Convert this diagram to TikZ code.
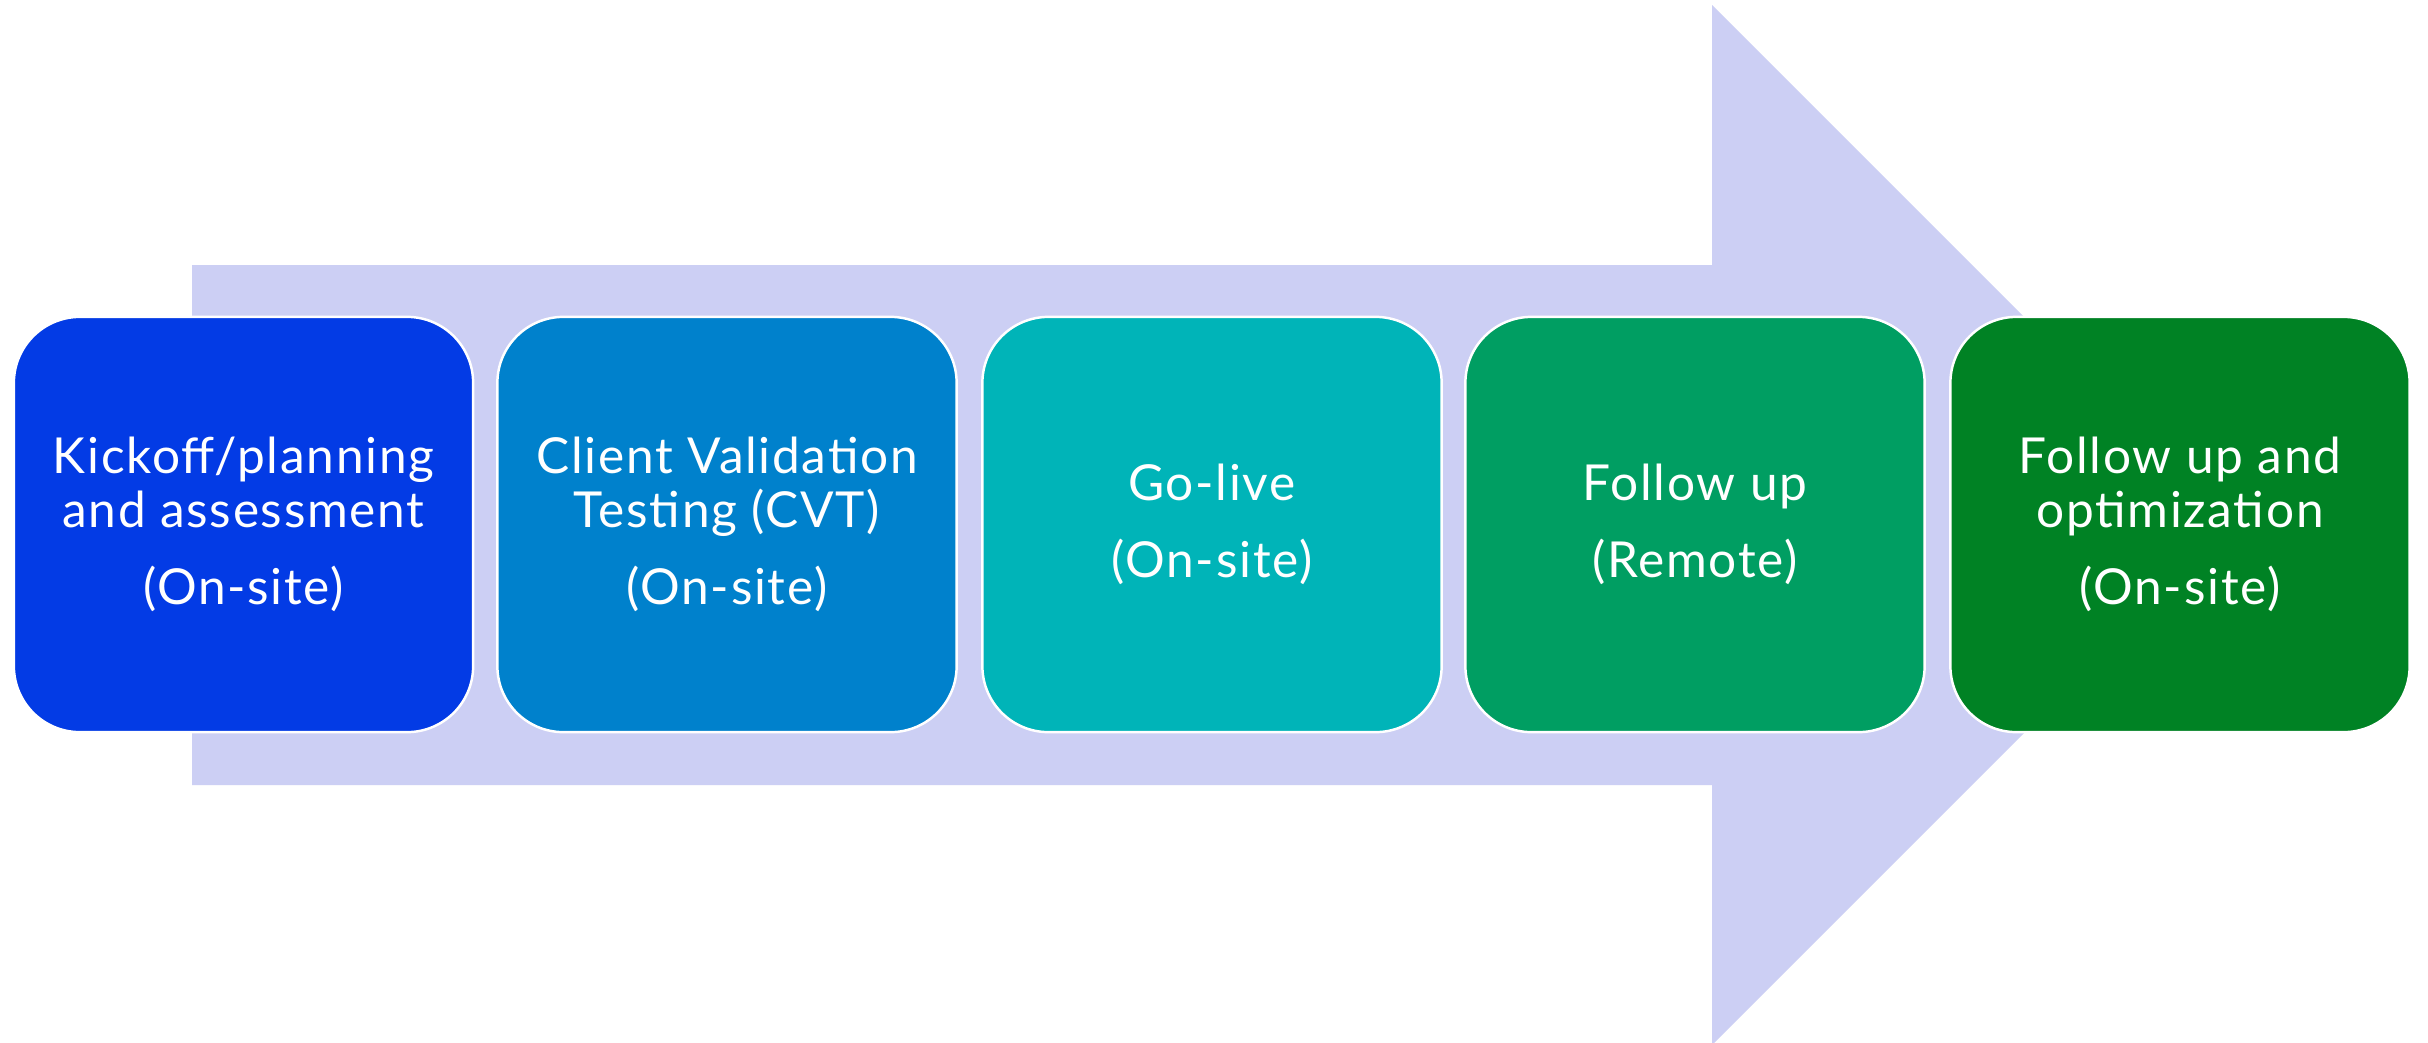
\documentclass[tikz,border=0pt]{standalone}
\usepackage{fontspec}
\setmainfont{Lato}[LetterSpace=3.5]
\definecolor{arrowc}{HTML}{CCCFF4}
\definecolor{cone}{HTML}{033BE5}
\definecolor{ctwo}{HTML}{0081CC}
\definecolor{cthree}{HTML}{00B4B8}
\definecolor{cfour}{HTML}{009E62}
\definecolor{cfive}{HTML}{008224}
\tikzset{
  stepbox/.style={draw=white, line width=0.7pt, rounded corners=0.66cm,
    minimum width=4.59cm, minimum height=4.15cm, inner sep=0pt,
    align=center, text=white, font=\fontsize{14.1}{15.4}\selectfont},
  bigarrow/.style={fill=arrowc, draw=none}
}
\begin{document}
\begin{tikzpicture}[x=0.01cm, y=-0.01cm]
\path[fill=white, use as bounding box] (0,0) rectangle (2428,1042);
\clip (0,0) rectangle (2428,1042);
\fill[bigarrow] (192,265) -- (1712,265) -- (1712,5) -- (2232,525) -- (1712,1045) -- (1712,785) -- (192,785) -- cycle;
\node[stepbox, fill=cone] (b1) at (243.5,524.5) {Kickoff/planning\\and assessment\\[6.5pt](On-site)};
\node[stepbox, fill=ctwo] (b2) at (727,524.5) {Client Validation\\Testing (CVT)\\[6.5pt](On-site)};
\node[stepbox, fill=cthree] (b3) at (1212,524.5) {Go-live\\[6.5pt](On-site)};
\node[stepbox, fill=cfour] (b4) at (1695,524.5) {Follow up\\[6.5pt](Remote)};
\node[stepbox, fill=cfive] (b5) at (2180,524.5) {Follow up and\\optimization\\[6.5pt](On-site)};
\end{tikzpicture}
\end{document}
